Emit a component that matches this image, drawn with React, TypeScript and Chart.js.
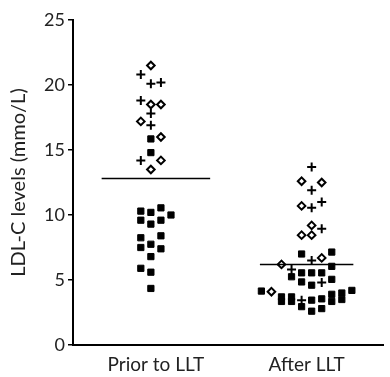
import React, { useEffect, useRef } from "react";
import { Chart, registerables } from "chart.js";

Chart.register(...registerables);

const categories = ["Prior to LLT", "After LLT"];
const categoryPositions = [1, 2];
const yTicks = [0, 5, 10, 15, 20, 25];
const meanValues = [12.8, 6.2];

// values (mmol/L) and column slots (jitter lane) per marker type
const priorPlusValues = [20.8, 20.1, 20.2, 18.8, 17.8, 16.9, 14.2];
const priorPlusCols = [-1.5, -0.5, 0.5, -1.5, -0.5, -0.5, -1.5];
const priorDiamondValues = [21.5, 18.5, 18.5, 17.2, 16.0, 14.2, 13.5];
const priorDiamondCols = [-0.5, -0.5, 0.5, -1.5, 0.5, 0.5, -0.5];
const priorSquareValues = [15.85, 14.8, 10.3, 10.2, 10.55, 10.0, 9.6, 9.3, 9.6, 8.25, 8.4, 7.5, 7.75, 7.4, 6.8, 5.9, 5.6, 4.35];
const priorSquareCols = [-0.5, -0.5, -1.5, -0.5, 0.5, 1.5, -1.5, -0.5, 0.5, -1.5, 0.5, -1.5, -0.5, 0.5, -0.5, -1.5, -0.5, -0.5];

const afterPlusValues = [13.7, 11.9, 10.55, 11.0, 8.95, 6.5, 5.8, 4.8, 3.45];
const afterPlusCols = [0.5, 0.5, 0.5, 1.5, 1.5, 0.5, -1.5, 1.5, -0.5];
const afterDiamondValues = [12.6, 12.5, 10.7, 9.2, 8.45, 8.45, 6.7, 6.2, 4.1];
const afterDiamondCols = [-0.5, 1.5, -0.5, 0.5, -0.5, 0.5, 1.5, -2.5, -3.5];
const afterSquareValues = [7.0, 7.15, 5.25, 5.55, 5.55, 5.55, 6.05, 4.85, 4.6, 5.05, 4.15, 4.2, 3.7, 3.35, 3.7, 3.35, 2.95, 3.45, 2.6, 3.55, 2.8, 3.9, 3.35, 4.0, 3.5];
const afterSquareCols = [-0.5, 2.5, -1.5, -0.5, 0.5, 1.5, 2.5, -0.5, 0.5, 2.5, -4.5, 4.5, -2.5, -2.5, -1.5, -1.5, -0.5, 0.5, 0.5, 1.5, 1.5, 2.5, 2.5, 3.5, 3.5];

const LANE = 0.0667;
const MEAN_HALF = [0.36, 0.31];

function pts(center: number, values: number[], cols: number[]) {
  return values.map((v, i) => ({ x: center + cols[i] * LANE, y: v }));
}

export default function App() {
  const ref = useRef<HTMLCanvasElement | null>(null);

  useEffect(() => {
    if (!ref.current) return;
    const font = "Lato, 'Open Sans', sans-serif";
    const plusStyle = { pointStyle: "cross", pointRadius: 4.5, borderWidth: 2, borderColor: "#000", backgroundColor: "#000" };
    const diamondStyle = { pointStyle: "rectRot", pointRadius: 3.8, borderWidth: 2, borderColor: "#000", backgroundColor: "#fff" };
    const squareStyle = { pointStyle: "rect", pointRadius: 4.4, borderWidth: 1, borderColor: "#000", backgroundColor: "#000" };
    const meanSets = categoryPositions.map((c, i) => ({
      type: "line" as const,
      data: [
        { x: c - MEAN_HALF[i], y: meanValues[i] },
        { x: c + MEAN_HALF[i], y: meanValues[i] },
      ],
      borderColor: "#000",
      borderWidth: 1.5,
      pointRadius: 0,
      showLine: true,
    }));
    const chart = new Chart(ref.current, {
      type: "scatter",
      data: {
        datasets: [
          ...meanSets,
          { data: pts(1, priorPlusValues, priorPlusCols), ...plusStyle },
          { data: pts(1, priorDiamondValues, priorDiamondCols), ...diamondStyle },
          { data: pts(1, priorSquareValues, priorSquareCols), ...squareStyle },
          { data: pts(2, afterPlusValues, afterPlusCols), ...plusStyle },
          { data: pts(2, afterDiamondValues, afterDiamondCols), ...diamondStyle },
          { data: pts(2, afterSquareValues, afterSquareCols), ...squareStyle },
        ] as any,
      },
      options: {
        animation: false,
        responsive: true,
        maintainAspectRatio: false,
        layout: { padding: { left: 0, right: 2, top: 20, bottom: 0 } },
        plugins: { legend: { display: false }, tooltip: { enabled: false } },
        scales: {
          x: {
            type: "linear",
            min: 0.45,
            max: 2.51,
            afterBuildTicks: (s: any) => {
              s.ticks = categoryPositions.map((v) => ({ value: v }));
            },
            afterFit: (s: any) => {
              s.height = 32;
            },
            ticks: {
              callback: (v: any) => {
                const i = categoryPositions.indexOf(Number(v));
                return i >= 0 ? categories[i] : "";
              },
              color: "#222",
              font: { family: font, size: 19 },
              padding: 8,
              maxRotation: 0,
            },
            grid: { display: false, drawTicks: false },
            border: { display: true, color: "#000", width: 2 },
          },
          y: {
            min: 0,
            max: 25,
            afterBuildTicks: (s: any) => {
              s.ticks = yTicks.map((v) => ({ value: v }));
            },
            afterFit: (s: any) => {
              s.width = 73;
            },
            ticks: {
              color: "#222",
              font: { family: font, size: 18 },
              padding: 3,
            },
            grid: { display: true, drawOnChartArea: false, drawTicks: true, tickLength: 5, color: "#000", lineWidth: 1.5 },
            border: { display: true, color: "#000", width: 2 },
            title: {
              display: true,
              text: "LDL-C levels (mmo/L)",
              color: "#222",
              font: { family: font, size: 20 },
              padding: { top: 7, bottom: 0 },
            },
          },
        },
      } as any,
    });
    return () => chart.destroy();
  }, []);

  return (
    <div style={{ position: "fixed", left: 0, top: 0, width: 390, height: 377 }}>
      <canvas ref={ref} />
    </div>
  );
}
